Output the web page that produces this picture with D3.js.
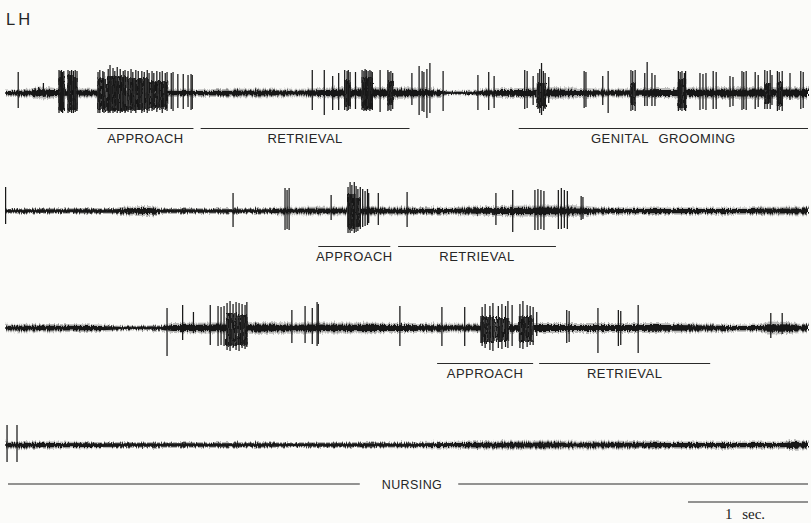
<!DOCTYPE html>
<html>
<head>
<meta charset="utf-8">
<script src="https://cdn.jsdelivr.net/npm/d3@7"></script>
<style>
  html, body { margin: 0; padding: 0; background: #fbfbf9; }
  svg { display: block; }
</style>
</head>
<body>
<svg id="chart" width="811" height="523"></svg>
<script>
// Unit activity, four sweeps. Times in seconds, amplitudes in arbitrary units.
// Spikes: [time, upward peak, downward peak]
const spikes1 = [
  [0.11,21,15],[0.25,5,3],[0.28,6,3],[0.32,10,4],
  [0.45,23,20],[0.46,22,18],[0.47,23,19],[0.48,21,20],[0.49,22,17],
  [0.525,23,20],[0.54,22,19],[0.555,23,20],[0.57,22,20],[0.585,23,19],[0.60,22,18],
  [0.775,21,20],[0.79,23,20],[0.815,22,19],[0.825,21,20],[0.86,24,20],[0.875,28,20],[0.90,25,20],
  [0.915,22,19],[0.935,26,20],[0.96,24,20],[0.985,22,18],[1.00,23,20],[1.025,22,19],[1.05,24,20],
  [1.065,21,18],[1.09,23,20],[1.11,22,17],[1.14,22,20],[1.16,21,19],[1.185,23,20],[1.20,20,18],
  [1.225,22,18],[1.24,20,17],[1.265,22,19],[1.29,21,17],[1.31,22,20],[1.335,20,17],[1.35,21,18],
  [1.385,20,16],[1.40,21,18],[1.44,19,15],[1.485,19,16],[1.525,18,14],[1.55,19,17],[1.56,18,16],
  [2.56,23,17],[2.66,23,22],[2.73,17,17],[2.78,20,17],[2.83,23,17],[2.85,22,18],[2.86,23,17],
  [2.875,21,16],[2.92,21,16],
  [2.975,23,17],[2.99,22,18],[3.00,24,17],[3.01,23,18],[3.025,22,17],[3.04,23,18],[3.05,22,16],[3.06,21,17],
  [3.125,23,19],[3.19,23,18],[3.20,21,17],[3.215,22,18],[3.23,20,16],
  [3.39,20,12],[3.45,27,22],[3.475,22,18],[3.49,21,19],[3.515,24,25],[3.54,30,20],[3.65,22,18],
  [3.94,18,17],[4.03,21,17],[4.075,17,15],
  [4.33,23,16],[4.35,22,15],[4.40,17,12],[4.44,20,16],[4.455,24,20],[4.47,30,22],[4.485,22,18],
  [4.50,20,16],[4.53,16,10],
  [4.825,22,15],[4.84,21,14],[4.98,17,12],[5.025,22,20],
  [5.215,23,18],[5.23,22,17],[5.25,23,18],[5.33,20,13],[5.35,31,13],[5.39,20,13],[5.415,18,13],
  [5.61,22,18],[5.625,21,17],[5.64,22,18],[5.66,20,17],[5.67,22,18],
  [5.79,20,17],[5.815,19,16],[5.84,20,17],[5.90,22,16],[5.925,21,16],
  [6.04,17,14],[6.065,16,13],[6.14,22,17],[6.155,21,16],[6.175,22,17],
  [6.25,21,16],[6.275,18,14],[6.33,23,16],[6.35,22,16],[6.375,23,16],[6.39,18,12],
  [6.435,22,18],[6.45,21,17],[6.475,22,18],[6.54,20,7],[6.63,22,16],[6.65,21,15]
];
const spikes2 = [
  [0.005,24,13],[1.90,18,16],[2.333,23,19],[2.35,21,18],[2.367,23,19],[2.717,16,9],
  [2.858,24,22],[2.875,29,22],[2.89,26,20],[2.91,29,22],[2.925,25,21],[2.94,22,20],[2.96,24,18],
  [2.98,22,16],[3.00,20,15],[3.02,22,14],[3.03,18,12],[3.11,18,14],[3.35,19,16],
  [4.09,18,14],[4.23,21,21],[4.415,21,19],[4.44,22,19],[4.465,21,18],[4.49,20,19],
  [4.61,21,18],[4.635,23,18],[4.66,21,17],[4.685,20,18],[4.80,15,9],[4.815,14,8]
];
const spikes3 = [
  [1.35,20,28],[1.48,23,12],[1.57,16,5],[1.71,23,17],[1.775,22,18],[1.80,21,17],[1.825,22,18],
  [1.85,25,22],[1.875,27,23],[1.90,24,20],[1.925,26,22],[1.95,25,23],[1.975,24,20],[2.00,23,21],[2.015,26,19],
  [2.39,18,15],[2.50,22,15],[2.56,20,16],[2.60,26,18],[2.61,24,16],[3.29,22,18],
  [3.64,21,18],[3.83,21,18],
  [3.975,21,18],[4.00,24,20],[4.04,22,22],[4.065,25,23],[4.11,22,20],[4.14,24,21],[4.17,22,19],
  [4.19,27,20],[4.225,23,18],[4.29,24,20],[4.315,27,21],[4.35,23,19],[4.375,22,17],[4.40,21,17],[4.43,16,8],
  [4.68,18,15],[4.70,17,14],[4.94,20,25],[5.11,18,18],[5.13,17,17],[5.275,23,25],[6.38,15,10],[6.475,15,6]
];
const spikes4 = [[0.017,20,17],[0.10,20,17]];

// Dense bursts: [start, end, upward extent, downward extent]
const bursts1 = [
  [0.445,0.495,16,17],[0.52,0.56,18,18],[0.56,0.605,15,17],
  [0.77,0.84,15,17],[0.84,1.02,17,18],[1.02,1.19,15,17],[1.19,1.36,12,15],
  [2.825,2.88,13,13],[2.97,3.065,16,16],
  [3.185,3.235,12,12],[4.43,4.51,10,14],[5.21,5.255,10,12],[5.605,5.675,14,15],[6.325,6.38,10,11],[6.43,6.48,11,13]
];
const bursts2 = [[2.85,2.92,17,18],[2.92,2.965,13,16]];
const bursts3 = [[1.84,1.93,15,18],[1.93,2.02,13,17],[3.96,4.08,12,15],[4.08,4.20,10,13],[4.28,4.40,12,14]];
const bursts4 = [];

// Background noise envelope: [time, half-amplitude]
const noise1 = [[0,2.5],[0.2,3],[0.3,4.5],[0.42,3.5],[0.7,3],[1.6,2.5],[2.0,3],[2.5,3],[2.8,4],[3.3,4],
  [3.6,3],[3.7,1.5],[3.9,1.5],[4.0,3],[4.3,3.5],[4.6,4],[5.0,3],[5.5,3.5],[6.0,4],[6.69,4]];
const noise2 = [[0,2],[0.9,2],[1.0,3],[1.2,3.5],[1.3,2],[2.2,2],[2.3,3],[3.2,3],[3.7,2.5],[3.8,3],
  [4.8,4],[4.9,3],[5.2,2.5],[6.2,2.5],[6.35,3],[6.69,3]];
const noise3 = [[0,3],[0.8,2.5],[1.0,1.5],[1.3,2],[1.4,3.5],[2.1,4],[3.3,3.5],[3.9,3],[4.5,3.5],[5.2,3.5],
  [5.9,3],[6.0,2.5],[6.3,2.5],[6.35,4.5],[6.55,4],[6.6,3],[6.69,3]];
const noise4 = [[0,3],[0.4,2.5],[1.0,2],[3.0,2],[3.8,2.5],[4.2,3],[5.0,3],[5.5,2.5],[6.5,2.5],[6.55,3.5],
  [6.65,3],[6.69,2.5]];

// Behaviour epochs under each sweep
const behaviourLabels = ["APPROACH","RETRIEVAL","GENITAL GROOMING","APPROACH","RETRIEVAL","APPROACH","RETRIEVAL","NURSING"];
const behaviourTrace  = [0,0,0,1,1,2,2,3];
const behaviourStart  = [0.77,1.63,4.28,2.61,3.275,3.60,4.45,0.025];
const behaviourEnd    = [1.57,3.37,6.69,3.21,4.59,4.40,5.875,6.69];

const sweepSeconds = 6.69;
const scaleBarSeconds = 1;
const titleText = "LH";

// ---- drawing ----
const svg = d3.select("#chart");
const W = 811, H = 523;
const ink = "#181818";

const x = d3.scaleLinear().domain([0, sweepSeconds]).range([5, 808]);
const baselines = [93, 211, 328, 445];
const amp = d3.scaleLinear().domain([-40, 40]).range([40, -40]);

const defs = svg.append("defs");
const rough = defs.append("filter").attr("id", "rough")
  .attr("x", "-1%").attr("y", "-150%").attr("width", "102%").attr("height", "400%");
rough.append("feTurbulence").attr("type", "fractalNoise")
  .attr("baseFrequency", "0.9 0.12").attr("numOctaves", 2).attr("seed", 7).attr("result", "n");
rough.append("feDisplacementMap").attr("in", "SourceGraphic").attr("in2", "n")
  .attr("scale", 5).attr("xChannelSelector", "R").attr("yChannelSelector", "G");

// burst fill: dark strokes with faint gaps
const stripes = defs.append("pattern").attr("id", "stripes")
  .attr("patternUnits", "userSpaceOnUse").attr("width", 2.4).attr("height", 4);
stripes.append("rect").attr("width", 2.4).attr("height", 4).attr("fill", "#5c5c5c");
stripes.append("rect").attr("x", 0).attr("width", 1.4).attr("height", 4).attr("fill", "#111");

svg.append("rect").attr("width", W).attr("height", H).attr("fill", "#fbfbf9");

const sweeps = [
  {spikes: spikes1, bursts: bursts1, noise: noise1},
  {spikes: spikes2, bursts: bursts2, noise: noise2},
  {spikes: spikes3, bursts: bursts3, noise: noise3},
  {spikes: spikes4, bursts: bursts4, noise: noise4}
];

const band = k => d3.area()
  .x(d => x(d[0]))
  .y0(d => amp(-d[1] * k))
  .y1(d => amp(d[1] * k))
  .curve(d3.curveMonotoneX);

sweeps.forEach((s, i) => {
  const g = svg.append("g").attr("transform", `translate(0,${baselines[i]})`);

  // outer fuzz of the noise
  g.append("path").datum(s.noise).attr("d", band(1.45))
    .attr("fill", "#6a6a6a").attr("opacity", 0.45).attr("filter", "url(#rough)");
  // dense core of the noise
  g.append("path").datum(s.noise).attr("d", band(0.85))
    .attr("fill", ink).attr("filter", "url(#rough)");
  g.append("line").attr("x1", x(0)).attr("x2", x(sweepSeconds))
    .attr("y1", amp(0)).attr("y2", amp(0)).attr("stroke", ink).attr("stroke-width", 1.6);

  // dense bursts
  g.selectAll("rect.burst").data(s.bursts).join("rect").attr("class", "burst")
    .attr("x", d => x(d[0])).attr("width", d => x(d[1]) - x(d[0]))
    .attr("y", d => amp(d[2])).attr("height", d => amp(-d[3]) - amp(d[2]))
    .attr("fill", "url(#stripes)").attr("filter", "url(#rough)");

  // individual spikes
  g.selectAll("line.spike").data(s.spikes).join("line").attr("class", "spike")
    .attr("x1", d => x(d[0])).attr("x2", d => x(d[0]))
    .attr("y1", d => amp(d[1])).attr("y2", d => amp(-d[2]))
    .attr("stroke", ink).attr("stroke-width", 1.25);
});

// behaviour bars and labels
const labelFont = "'Liberation Sans', Arial, Helvetica, sans-serif";
behaviourLabels.forEach((label, i) => {
  const tr = behaviourTrace[i];
  const x0 = x(behaviourStart[i]), x1 = x(behaviourEnd[i]);
  const cx = (x0 + x1) / 2;
  if (label === "NURSING") {
    const y = baselines[tr] + 39;
    const t = svg.append("text").attr("x", cx + 4).attr("y", y + 4.5)
      .attr("text-anchor", "middle").attr("font-family", labelFont)
      .attr("font-size", 12.5).attr("fill", "#262626").attr("letter-spacing", 0.4).text(label);
    const bb = t.node().getBBox();
    svg.append("line").attr("x1", x0).attr("x2", bb.x - 22).attr("y1", y).attr("y2", y)
      .attr("stroke", "#2a2a2a").attr("stroke-width", 1.1);
    svg.append("line").attr("x1", bb.x + bb.width + 16).attr("x2", x1).attr("y1", y).attr("y2", y)
      .attr("stroke", "#2a2a2a").attr("stroke-width", 1.1);
  } else {
    const y = baselines[tr] + 35.5;
    svg.append("line").attr("x1", x0).attr("x2", x1).attr("y1", y).attr("y2", y)
      .attr("stroke", "#2a2a2a").attr("stroke-width", 1.1);
    svg.append("text").attr("x", cx).attr("y", y + 14)
      .attr("text-anchor", "middle").attr("font-family", labelFont)
      .attr("font-size", 13).attr("fill", "#262626").attr("letter-spacing", 0.45)
      .attr("word-spacing", 6).text(label);
  }
});

// time calibration bar
const sbY = 502;
svg.append("line")
  .attr("x1", x(sweepSeconds - scaleBarSeconds)).attr("x2", x(sweepSeconds))
  .attr("y1", sbY).attr("y2", sbY).attr("stroke", "#2a2a2a").attr("stroke-width", 1.1);
svg.append("text").attr("x", x(sweepSeconds - scaleBarSeconds / 2) - 3).attr("y", sbY + 17)
  .attr("text-anchor", "middle").attr("font-family", "'Liberation Serif', 'DejaVu Serif', serif")
  .attr("font-size", 15).attr("fill", "#222").attr("word-spacing", 6)
  .text(`${scaleBarSeconds} sec.`);

// recording site
svg.append("text").attr("x", 6).attr("y", 25)
  .attr("font-family", labelFont).attr("font-size", 16.5).attr("fill", "#262626")
  .attr("letter-spacing", 3).text(titleText);
</script>
</body>
</html>
